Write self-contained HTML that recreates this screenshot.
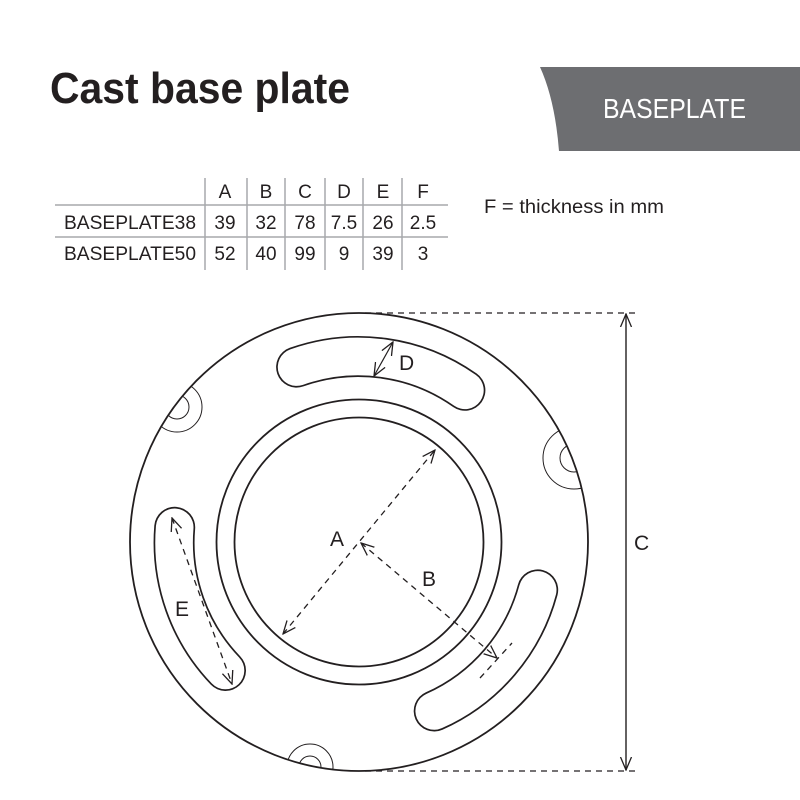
<!DOCTYPE html>
<html><head><meta charset="utf-8"><style>
html,body{margin:0;padding:0;background:#fff;}
svg{display:block;}
text{font-family:"Liberation Sans",sans-serif;fill:#231f20;}
</style></head><body>
<svg width="800" height="800" viewBox="0 0 800 800" xmlns="http://www.w3.org/2000/svg">
<defs>
<marker id="ar" viewBox="0 0 14 14" refX="13" refY="7" markerWidth="14" markerHeight="14" markerUnits="userSpaceOnUse" orient="auto-start-reverse">
<path d="M0,1.5 L13,7 L0,12.5" fill="none" stroke="#231f20" stroke-width="1.3"/>
</marker>
<clipPath id="oc"><circle cx="359" cy="542" r="229"/></clipPath>
</defs>
<!-- header -->
<text x="50" y="103" font-size="44" font-weight="bold" textLength="300" lengthAdjust="spacingAndGlyphs">Cast base plate</text>
<path d="M540,67 L800,67 L800,151 L559,151 Q555,100 540,67 Z" fill="#6d6e71"/>
<text x="603" y="118" font-size="28" textLength="143" lengthAdjust="spacingAndGlyphs" style="fill:#fff">BASEPLATE</text>
<!-- table -->
<g stroke="#a7a9ac" stroke-width="1.5">
<line x1="55" y1="205" x2="448" y2="205"/>
<line x1="55" y1="237" x2="448" y2="237"/>
<line x1="205" y1="178" x2="205" y2="270"/>
<line x1="247" y1="178" x2="247" y2="270"/>
<line x1="285" y1="178" x2="285" y2="270"/>
<line x1="325" y1="178" x2="325" y2="270"/>
<line x1="363" y1="178" x2="363" y2="270"/>
<line x1="402" y1="178" x2="402" y2="270"/>
</g>
<g font-size="19" text-anchor="middle">
<text x="225" y="198">A</text><text x="266" y="198">B</text><text x="305" y="198">C</text><text x="344" y="198">D</text><text x="383" y="198">E</text><text x="423" y="198">F</text>
<text x="225" y="229">39</text><text x="266" y="229">32</text><text x="305" y="229">78</text><text x="344" y="229">7.5</text><text x="383" y="229">26</text><text x="423" y="229">2.5</text>
<text x="225" y="260">52</text><text x="266" y="260">40</text><text x="305" y="260">99</text><text x="344" y="260">9</text><text x="383" y="260">39</text><text x="423" y="260">3</text>
</g>
<text x="64" y="229" font-size="19" textLength="132" lengthAdjust="spacingAndGlyphs">BASEPLATE38</text>
<text x="64" y="260" font-size="19" textLength="132" lengthAdjust="spacingAndGlyphs">BASEPLATE50</text>
<text x="484" y="213" font-size="19" textLength="180" lengthAdjust="spacingAndGlyphs">F = thickness in mm</text>
<!-- plate -->
<g fill="none" stroke="#231f20">
<circle cx="359" cy="542" r="229" stroke-width="1.8"/>
<circle cx="359" cy="542" r="142.5" stroke-width="1.8"/>
<circle cx="359" cy="542" r="124.5" stroke-width="1.8"/>
<g stroke-linecap="round">
<path d="M296.6,367.1 A185,185 0 0 1 464.9,390.3" stroke-width="41"/>
<path d="M296.6,367.1 A185,185 0 0 1 464.9,390.3" stroke="#fff" stroke-width="37.6"/>
<path d="M537.7,589.9 A185,185 0 0 1 434.2,711" stroke-width="41"/>
<path d="M537.7,589.9 A185,185 0 0 1 434.2,711" stroke="#fff" stroke-width="37.6"/>
<path d="M225.5,670.5 A185,185 0 0 1 174.7,527.3" stroke-width="41"/>
<path d="M225.5,670.5 A185,185 0 0 1 174.7,527.3" stroke="#fff" stroke-width="37.6"/>
</g>
<g clip-path="url(#oc)" stroke-width="1">
<circle cx="177" cy="407" r="25"/><circle cx="177" cy="407" r="12"/>
<circle cx="574" cy="458" r="31"/><circle cx="574" cy="458" r="14"/>
<circle cx="310" cy="767" r="23"/><circle cx="310" cy="767" r="11"/>
</g>
<g stroke-width="1.2" stroke-dasharray="6,5">
<line x1="365" y1="313" x2="640" y2="313"/>
<line x1="365" y1="771" x2="640" y2="771"/>
</g>
<line x1="626" y1="314" x2="626" y2="770" stroke-width="1.4" marker-start="url(#ar)" marker-end="url(#ar)"/>
<g stroke-width="1.3" stroke-dasharray="6,5">
<line x1="283" y1="634" x2="435" y2="450" marker-start="url(#ar)" marker-end="url(#ar)"/>
<line x1="361" y1="543" x2="497" y2="658" marker-start="url(#ar)" marker-end="url(#ar)"/>
<line x1="480" y1="678" x2="512" y2="643"/>
<line x1="172" y1="518" x2="232" y2="684" marker-start="url(#ar)" marker-end="url(#ar)"/>
</g>
<line x1="393" y1="342" x2="374" y2="376" stroke-width="1.2" marker-start="url(#ar)" marker-end="url(#ar)"/>
</g>
<g font-size="21">
<text x="330" y="546">A</text>
<text x="422" y="586">B</text>
<text x="634" y="550">C</text>
<text x="399" y="370">D</text>
<text x="175" y="616">E</text>
</g>
</svg>
</body></html>
